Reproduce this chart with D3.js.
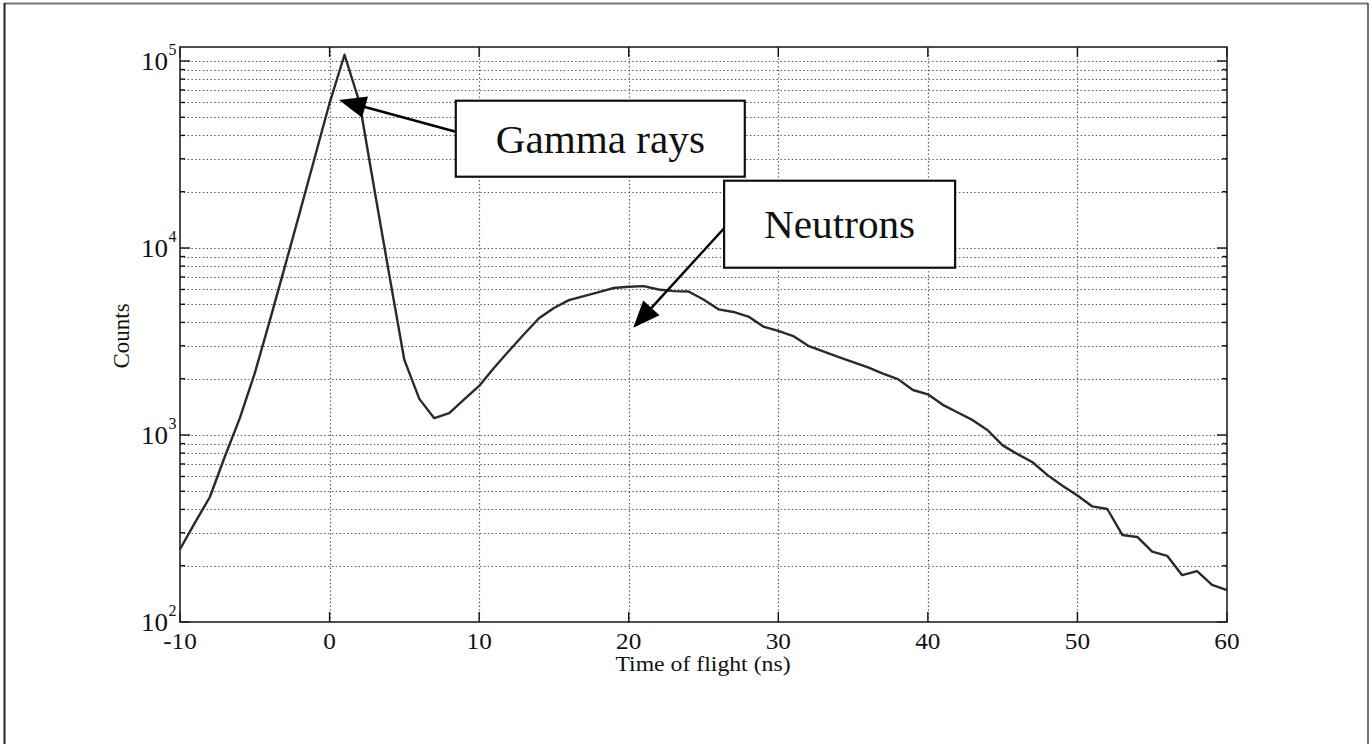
<!DOCTYPE html>
<html>
<head>
<meta charset="utf-8">
<script src="https://cdn.jsdelivr.net/npm/d3@7"></script>
<style>
  html, body { margin: 0; padding: 0; background: #fff; }
  svg { display: block; }
  text { font-family: "Liberation Serif", "Times New Roman", serif; fill: #111; }
</style>
</head>
<body>
<svg id="chart" width="1372" height="744"></svg>
<script>
// Time-of-flight spectrum, 1 ns bins
const timeNs = [-10, -9, -8, -7, -6, -5, -4, -3, -2, -1,
  0, 1, 2, 3, 4, 5, 6, 7, 8, 9,
  10, 11, 12, 13, 14, 15, 16, 17, 18, 19,
  20, 21, 22, 23, 24, 25, 26, 27, 28, 29,
  30, 31, 32, 33, 34, 35, 36, 37, 38, 39,
  40, 41, 42, 43, 44, 45, 46, 47, 48, 49,
  50, 51, 52, 53, 54, 55, 56, 57, 58, 59, 60];

const counts = [245, 340, 466, 767, 1230, 2140, 4080, 7900, 15400, 30300,
  59600, 108000, 60000, 20500, 7120, 2520, 1560, 1230, 1310, 1550,
  1830, 2290, 2820, 3460, 4210, 4780, 5260, 5530, 5810, 6110,
  6210, 6250, 6000, 5880, 5850, 5300, 4700, 4550, 4300, 3800,
  3600, 3380, 3000, 2800, 2620, 2450, 2300, 2130, 1990, 1740,
  1650, 1450, 1320, 1200, 1060, 880, 790, 715, 610, 535,
  475, 415, 402, 292, 285, 238, 226, 178, 187, 158, 148];

const xTicks = [-10, 0, 10, 20, 30, 40, 50, 60];
const xTickLabels = ["-10", "0", "10", "20", "30", "40", "50", "60"];
const yDecades = [100, 1000, 10000, 100000];
const yExponents = ["2", "3", "4", "5"];
const yMinorMultipliers = [2, 3, 4, 5, 6, 7, 8, 9];

const xDomain = [-10, 60];
const yDomain = [100, 118800];

// Annotations: label box centre and arrow tip in data units
const annotationLabels = ["Gamma rays", "Neutrons"];
const annotationBoxAt = [[18.1, 38400], [34.1, 13400]];
const annotationTipAt = [[0.63, 61900], [20.3, 3740]];

const svg = d3.select("#chart");
const plot = { left: 180, right: 1227, top: 47, bottom: 622 };

const x = d3.scaleLinear().domain(xDomain).range([plot.left, plot.right]);
const y = d3.scaleLog().domain(yDomain).range([plot.bottom, plot.top]);

// Slightly wide serif lettering
function wide(sel, k) {
  return sel.attr("transform", function () {
    const cx = +d3.select(this).attr("x");
    return `translate(${cx * (1 - k)},0) scale(${k},1)`;
  });
}

// Page frame
svg.append("line").attr("x1", 4).attr("x2", 1368).attr("y1", 3.5).attr("y2", 3.5)
  .attr("stroke", "#777").attr("stroke-width", 2);
svg.append("line").attr("x1", 4.5).attr("x2", 4.5).attr("y1", 3).attr("y2", 744)
  .attr("stroke", "#222").attr("stroke-width", 2);
svg.append("line").attr("x1", 1368).attr("x2", 1368).attr("y1", 3).attr("y2", 744)
  .attr("stroke", "#444").attr("stroke-width", 1.5);

// Minor + major y values for grid and ticks
const yAll = [];
yDecades.forEach(d => {
  yAll.push({ v: d, major: true });
  yMinorMultipliers.forEach(m => {
    const v = d * m;
    if (v <= yDomain[1]) yAll.push({ v, major: false });
  });
});

const grid = svg.append("g").attr("stroke", "#555").attr("stroke-width", 1.2)
  .attr("stroke-dasharray", "1.4,2.4");
grid.selectAll("line.h").data(yAll.filter(d => d.v > yDomain[0])).join("line")
  .attr("class", "h")
  .attr("x1", plot.left).attr("x2", plot.right)
  .attr("y1", d => Math.round(y(d.v)) + 0.5).attr("y2", d => Math.round(y(d.v)) + 0.5);
grid.selectAll("line.v").data(xTicks.filter(t => t > xDomain[0] && t < xDomain[1])).join("line")
  .attr("class", "v")
  .attr("y1", plot.top).attr("y2", plot.bottom)
  .attr("x1", d => Math.round(x(d)) + 0.5).attr("x2", d => Math.round(x(d)) + 0.5);

// Tick marks drawn inside the axes box, on all four sides
const ticks = svg.append("g").attr("stroke", "#111").attr("stroke-width", 1.4);
yAll.forEach(d => {
  const yy = y(d.v);
  const len = d.major ? 10 : 5;
  ticks.append("line").attr("x1", plot.left).attr("x2", plot.left + len).attr("y1", yy).attr("y2", yy);
  ticks.append("line").attr("x1", plot.right).attr("x2", plot.right - len).attr("y1", yy).attr("y2", yy);
});
xTicks.forEach(t => {
  const xx = x(t);
  ticks.append("line").attr("x1", xx).attr("x2", xx).attr("y1", plot.bottom).attr("y2", plot.bottom - 10);
  ticks.append("line").attr("x1", xx).attr("x2", xx).attr("y1", plot.top).attr("y2", plot.top + 10);
});

// Axes box
svg.append("rect").attr("x", plot.left).attr("y", plot.top)
  .attr("width", plot.right - plot.left).attr("height", plot.bottom - plot.top)
  .attr("fill", "none").attr("stroke", "#222").attr("stroke-width", 1.6);

// X tick labels
wide(svg.append("g").selectAll("text").data(xTicks).join("text")
  .attr("x", d => x(d)).attr("y", plot.bottom + 27)
  .attr("text-anchor", "middle").attr("font-size", 23)
  .text((d, i) => xTickLabels[i]), 1.1);

// Y tick labels: 10 with exponent
const yLab = svg.append("g").selectAll("g").data(yDecades).join("g")
  .attr("transform", d => `translate(168,${y(d)})`);
yLab.append("text").attr("x", 0).attr("y", 9).attr("text-anchor", "end")
  .attr("font-size", 25).attr("transform", "scale(1.08,1)").text("10");
yLab.append("text").attr("x", 0.5).attr("y", -6).attr("font-size", 16)
  .text((d, i) => yExponents[i]);

// Axis titles
wide(svg.append("text").attr("x", 703).attr("y", 671).attr("text-anchor", "middle")
  .attr("font-size", 22).text("Time of flight (ns)"), 1.08);
svg.append("text").attr("transform", "translate(129,336) rotate(-90)")
  .attr("text-anchor", "middle").attr("font-size", 23).text("Counts");

// Spectrum line
const line = d3.line().x((d, i) => x(timeNs[i])).y(d => y(d));
svg.append("path").datum(counts)
  .attr("d", line).attr("fill", "none")
  .attr("stroke", "#2a2a2a").attr("stroke-width", 2.4).attr("stroke-linejoin", "round");

// Annotation boxes with arrows
const boxSizes = [[289, 76], [231, 87]];
function drawArrow(x1, y1, x2, y2, headLen, headW) {
  const dx = x2 - x1, dy = y2 - y1, L = Math.hypot(dx, dy);
  const ux = dx / L, uy = dy / L;
  const bx = x2 - ux * headLen, by = y2 - uy * headLen;
  svg.append("line").attr("x1", x1).attr("y1", y1).attr("x2", bx + ux * 2).attr("y2", by + uy * 2)
    .attr("stroke", "#000").attr("stroke-width", 2.4);
  const px = -uy * headW / 2, py = ux * headW / 2;
  svg.append("path")
    .attr("d", `M${x2},${y2}L${bx + px},${by + py}L${bx - px},${by - py}Z`)
    .attr("fill", "#000");
}
annotationLabels.forEach((label, i) => {
  const cx = x(annotationBoxAt[i][0]), cy = y(annotationBoxAt[i][1]);
  const [w, h] = boxSizes[i];
  const left = cx - w / 2;
  const tipX = x(annotationTipAt[i][0]), tipY = y(annotationTipAt[i][1]);
  const tailY = i === 0 ? cy - 7 : cy + 4;
  drawArrow(left, tailY, tipX, tipY, 27, 22);
  svg.append("rect").attr("x", left).attr("y", cy - h / 2).attr("width", w).attr("height", h)
    .attr("fill", "#fff").attr("stroke", "#111").attr("stroke-width", 2.2);
  wide(svg.append("text").attr("x", cx).attr("y", cy + 14)
    .attr("text-anchor", "middle").attr("font-size", 40).text(label), 1.03);
});
</script>
</body>
</html>
